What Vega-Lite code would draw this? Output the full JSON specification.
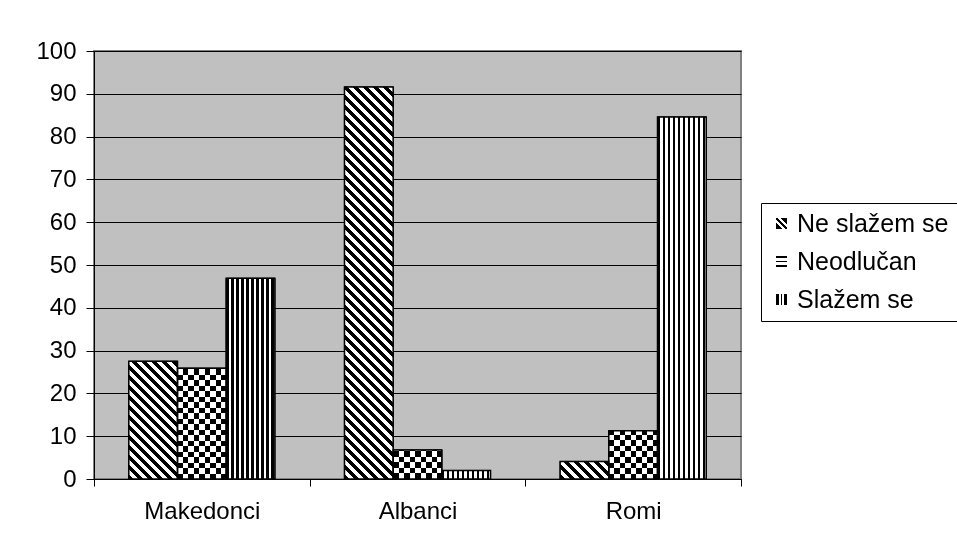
{
  "$schema": "https://vega.github.io/schema/vega-lite/v6.json",
  "width": 647,
  "height": 428,
  "autosize": {"type": "none"},
  "padding": {"left": 94, "top": 51, "right": 216, "bottom": 70},
  "background": "white",
  "config": {
    "view": {"fill": "#c0c0c0", "stroke": "#808080", "strokeWidth": 2},
    "font": "Liberation Sans"
  },
  "params": [
    {
      "name": "legA",
      "value": {"gradient": "linear", "x1": 0, "y1": 1, "x2": 1, "y2": 0, "stops": [
        {"offset": 0, "color": "#000"}, {"offset": 0.3, "color": "#000"}, {"offset": 0.3, "color": "#fff"}, {"offset": 0.42, "color": "#fff"},
        {"offset": 0.42, "color": "#000"}, {"offset": 0.58, "color": "#000"}, {"offset": 0.58, "color": "#fff"}, {"offset": 0.7, "color": "#fff"},
        {"offset": 0.7, "color": "#000"}, {"offset": 1, "color": "#000"}]}
    },
    {
      "name": "legB",
      "value": {"gradient": "linear", "x1": 0, "y1": 0, "x2": 0, "y2": 1, "stops": [
        {"offset": 0, "color": "#000"}, {"offset": 0.22, "color": "#000"}, {"offset": 0.22, "color": "#fff"}, {"offset": 0.42, "color": "#fff"},
        {"offset": 0.42, "color": "#000"}, {"offset": 0.58, "color": "#000"}, {"offset": 0.58, "color": "#fff"}, {"offset": 0.78, "color": "#fff"},
        {"offset": 0.78, "color": "#000"}, {"offset": 1, "color": "#000"}]}
    },
    {
      "name": "legC",
      "value": {"gradient": "linear", "x1": 0, "y1": 0, "x2": 1, "y2": 0, "stops": [
        {"offset": 0, "color": "#000"}, {"offset": 0.25, "color": "#000"}, {"offset": 0.25, "color": "#fff"}, {"offset": 0.42, "color": "#fff"},
        {"offset": 0.42, "color": "#000"}, {"offset": 0.58, "color": "#000"}, {"offset": 0.58, "color": "#fff"}, {"offset": 0.75, "color": "#fff"},
        {"offset": 0.75, "color": "#000"}, {"offset": 1, "color": "#000"}]}
    },
    {
      "name": "stripes",
      "value": [
        {"offset":0,"color":"#000"},{"offset":0.01,"color":"#000"},{"offset":0.01,"color":"#fff"},{"offset":0.02,"color":"#fff"},
        {"offset":0.02,"color":"#000"},{"offset":0.03,"color":"#000"},{"offset":0.03,"color":"#fff"},{"offset":0.04,"color":"#fff"},
        {"offset":0.04,"color":"#000"},{"offset":0.05,"color":"#000"},{"offset":0.05,"color":"#fff"},{"offset":0.06,"color":"#fff"},
        {"offset":0.06,"color":"#000"},{"offset":0.07,"color":"#000"},{"offset":0.07,"color":"#fff"},{"offset":0.08,"color":"#fff"},
        {"offset":0.08,"color":"#000"},{"offset":0.09,"color":"#000"},{"offset":0.09,"color":"#fff"},{"offset":0.10,"color":"#fff"},
        {"offset":0.10,"color":"#000"},{"offset":0.11,"color":"#000"},{"offset":0.11,"color":"#fff"},{"offset":0.12,"color":"#fff"},
        {"offset":0.12,"color":"#000"},{"offset":0.13,"color":"#000"},{"offset":0.13,"color":"#fff"},{"offset":0.14,"color":"#fff"},
        {"offset":0.14,"color":"#000"},{"offset":0.15,"color":"#000"},{"offset":0.15,"color":"#fff"},{"offset":0.16,"color":"#fff"},
        {"offset":0.16,"color":"#000"},{"offset":0.17,"color":"#000"},{"offset":0.17,"color":"#fff"},{"offset":0.18,"color":"#fff"},
        {"offset":0.18,"color":"#000"},{"offset":0.19,"color":"#000"},{"offset":0.19,"color":"#fff"},{"offset":0.20,"color":"#fff"},
        {"offset":0.20,"color":"#000"},{"offset":0.21,"color":"#000"},{"offset":0.21,"color":"#fff"},{"offset":0.22,"color":"#fff"},
        {"offset":0.22,"color":"#000"},{"offset":0.23,"color":"#000"},{"offset":0.23,"color":"#fff"},{"offset":0.24,"color":"#fff"},
        {"offset":0.24,"color":"#000"},{"offset":0.25,"color":"#000"},{"offset":0.25,"color":"#fff"},{"offset":0.26,"color":"#fff"},
        {"offset":0.26,"color":"#000"},{"offset":0.27,"color":"#000"},{"offset":0.27,"color":"#fff"},{"offset":0.28,"color":"#fff"},
        {"offset":0.28,"color":"#000"},{"offset":0.29,"color":"#000"},{"offset":0.29,"color":"#fff"},{"offset":0.30,"color":"#fff"},
        {"offset":0.30,"color":"#000"},{"offset":0.31,"color":"#000"},{"offset":0.31,"color":"#fff"},{"offset":0.32,"color":"#fff"},
        {"offset":0.32,"color":"#000"},{"offset":0.33,"color":"#000"},{"offset":0.33,"color":"#fff"},{"offset":0.34,"color":"#fff"},
        {"offset":0.34,"color":"#000"},{"offset":0.35,"color":"#000"},{"offset":0.35,"color":"#fff"},{"offset":0.36,"color":"#fff"},
        {"offset":0.36,"color":"#000"},{"offset":0.37,"color":"#000"},{"offset":0.37,"color":"#fff"},{"offset":0.38,"color":"#fff"},
        {"offset":0.38,"color":"#000"},{"offset":0.39,"color":"#000"},{"offset":0.39,"color":"#fff"},{"offset":0.40,"color":"#fff"},
        {"offset":0.40,"color":"#000"},{"offset":0.41,"color":"#000"},{"offset":0.41,"color":"#fff"},{"offset":0.42,"color":"#fff"},
        {"offset":0.42,"color":"#000"},{"offset":0.43,"color":"#000"},{"offset":0.43,"color":"#fff"},{"offset":0.44,"color":"#fff"},
        {"offset":0.44,"color":"#000"},{"offset":0.45,"color":"#000"},{"offset":0.45,"color":"#fff"},{"offset":0.46,"color":"#fff"},
        {"offset":0.46,"color":"#000"},{"offset":0.47,"color":"#000"},{"offset":0.47,"color":"#fff"},{"offset":0.48,"color":"#fff"},
        {"offset":0.48,"color":"#000"},{"offset":0.49,"color":"#000"},{"offset":0.49,"color":"#fff"},{"offset":0.50,"color":"#fff"},
        {"offset":0.50,"color":"#000"},{"offset":0.51,"color":"#000"},{"offset":0.51,"color":"#fff"},{"offset":0.52,"color":"#fff"},
        {"offset":0.52,"color":"#000"},{"offset":0.53,"color":"#000"},{"offset":0.53,"color":"#fff"},{"offset":0.54,"color":"#fff"},
        {"offset":0.54,"color":"#000"},{"offset":0.55,"color":"#000"},{"offset":0.55,"color":"#fff"},{"offset":0.56,"color":"#fff"},
        {"offset":0.56,"color":"#000"},{"offset":0.57,"color":"#000"},{"offset":0.57,"color":"#fff"},{"offset":0.58,"color":"#fff"},
        {"offset":0.58,"color":"#000"},{"offset":0.59,"color":"#000"},{"offset":0.59,"color":"#fff"},{"offset":0.60,"color":"#fff"},
        {"offset":0.60,"color":"#000"},{"offset":0.61,"color":"#000"},{"offset":0.61,"color":"#fff"},{"offset":0.62,"color":"#fff"},
        {"offset":0.62,"color":"#000"},{"offset":0.63,"color":"#000"},{"offset":0.63,"color":"#fff"},{"offset":0.64,"color":"#fff"},
        {"offset":0.64,"color":"#000"},{"offset":0.65,"color":"#000"},{"offset":0.65,"color":"#fff"},{"offset":0.66,"color":"#fff"},
        {"offset":0.66,"color":"#000"},{"offset":0.67,"color":"#000"},{"offset":0.67,"color":"#fff"},{"offset":0.68,"color":"#fff"},
        {"offset":0.68,"color":"#000"},{"offset":0.69,"color":"#000"},{"offset":0.69,"color":"#fff"},{"offset":0.70,"color":"#fff"},
        {"offset":0.70,"color":"#000"},{"offset":0.71,"color":"#000"},{"offset":0.71,"color":"#fff"},{"offset":0.72,"color":"#fff"},
        {"offset":0.72,"color":"#000"},{"offset":0.73,"color":"#000"},{"offset":0.73,"color":"#fff"},{"offset":0.74,"color":"#fff"},
        {"offset":0.74,"color":"#000"},{"offset":0.75,"color":"#000"},{"offset":0.75,"color":"#fff"},{"offset":0.76,"color":"#fff"},
        {"offset":0.76,"color":"#000"},{"offset":0.77,"color":"#000"},{"offset":0.77,"color":"#fff"},{"offset":0.78,"color":"#fff"},
        {"offset":0.78,"color":"#000"},{"offset":0.79,"color":"#000"},{"offset":0.79,"color":"#fff"},{"offset":0.80,"color":"#fff"},
        {"offset":0.80,"color":"#000"},{"offset":0.81,"color":"#000"},{"offset":0.81,"color":"#fff"},{"offset":0.82,"color":"#fff"},
        {"offset":0.82,"color":"#000"},{"offset":0.83,"color":"#000"},{"offset":0.83,"color":"#fff"},{"offset":0.84,"color":"#fff"},
        {"offset":0.84,"color":"#000"},{"offset":0.85,"color":"#000"},{"offset":0.85,"color":"#fff"},{"offset":0.86,"color":"#fff"},
        {"offset":0.86,"color":"#000"},{"offset":0.87,"color":"#000"},{"offset":0.87,"color":"#fff"},{"offset":0.88,"color":"#fff"},
        {"offset":0.88,"color":"#000"},{"offset":0.89,"color":"#000"},{"offset":0.89,"color":"#fff"},{"offset":0.90,"color":"#fff"},
        {"offset":0.90,"color":"#000"},{"offset":0.91,"color":"#000"},{"offset":0.91,"color":"#fff"},{"offset":0.92,"color":"#fff"},
        {"offset":0.92,"color":"#000"},{"offset":0.93,"color":"#000"},{"offset":0.93,"color":"#fff"},{"offset":0.94,"color":"#fff"},
        {"offset":0.94,"color":"#000"},{"offset":0.95,"color":"#000"},{"offset":0.95,"color":"#fff"},{"offset":0.96,"color":"#fff"},
        {"offset":0.96,"color":"#000"},{"offset":0.97,"color":"#000"},{"offset":0.97,"color":"#fff"},{"offset":0.98,"color":"#fff"},
        {"offset":0.98,"color":"#000"},{"offset":0.99,"color":"#000"},{"offset":0.99,"color":"#fff"},{"offset":1,"color":"#fff"}
      ]
    }
  ],
  "data": {
    "values": [
      {"group": "Makedonci", "series": "Ne slažem se", "value": 27.5},
      {"group": "Makedonci", "series": "Neodlučan", "value": 25.9},
      {"group": "Makedonci", "series": "Slažem se", "value": 46.9},
      {"group": "Albanci", "series": "Ne slažem se", "value": 91.6},
      {"group": "Albanci", "series": "Neodlučan", "value": 6.8},
      {"group": "Albanci", "series": "Slažem se", "value": 2.0},
      {"group": "Romi", "series": "Ne slažem se", "value": 4.1},
      {"group": "Romi", "series": "Neodlučan", "value": 11.3},
      {"group": "Romi", "series": "Slažem se", "value": 84.6}
    ]
  },
  "encoding": {
    "x": {
      "field": "group",
      "type": "nominal",
      "sort": ["Makedonci", "Albanci", "Romi"],
      "scale": {"paddingInner": 0, "paddingOuter": 0},
      "axis": {
        "title": null,
        "tickBand": "extent",
        "tickSize": 7,
        "tickColor": "black",
        "tickWidth": 1,
        "domainColor": "black",
        "domainWidth": 1,
        "grid": false,
        "labelAngle": 0,
        "labelFont": "Liberation Sans",
        "labelFontSize": 24,
        "labelColor": "black",
        "labelPadding": 13
      }
    },
    "xOffset": {
      "field": "series",
      "type": "nominal",
      "sort": ["Ne slažem se", "Neodlučan", "Slažem se"],
      "scale": {"domain": ["Ne slažem se", "Neodlučan", "Slažem se"], "paddingInner": 0, "paddingOuter": 0.715}
    },
    "y": {
      "field": "value",
      "type": "quantitative",
      "scale": {"domain": [0, 100], "nice": false},
      "axis": {
        "title": null,
        "values": [0, 10, 20, 30, 40, 50, 60, 70, 80, 90, 100],
        "grid": true,
        "gridColor": "black",
        "gridWidth": 1,
        "gridOpacity": 1,
        "domainColor": "black",
        "domainWidth": 1,
        "tickColor": "black",
        "tickSize": 8,
        "tickWidth": 1,
        "labelFont": "Liberation Sans",
        "labelFontSize": 24,
        "labelColor": "black",
        "labelPadding": 10
      }
    }
  },
  "layer": [
    {
      "mark": {
        "type": "bar",
        "fill": {"expr": "datum.value === 'Ne slažem se' ? legA : (datum.value === 'Neodlučan' ? legB : legC)"},
        "stroke": "black",
        "strokeWidth": 1
      },
      "encoding": {
        "opacity": {
          "field": "series",
          "type": "nominal",
          "scale": {
            "type": "ordinal",
            "domain": ["Ne slažem se", "Neodlučan", "Slažem se"],
            "range": [1, 1, 1]
          },
          "legend": {
            "title": null,
            "orient": "none",
            "legendX": 667,
            "legendY": 152,
            "strokeColor": "black",
            "fillColor": "white",
            "padding": 8,
            "symbolType": "square",
            "symbolSize": 121,
            "symbolStrokeColor": "black",
            "symbolStrokeWidth": 1,
            "symbolOffset": 0,
            "labelOffset": 3,
            "labelFont": "Liberation Sans",
            "labelFontSize": 25,
            "labelColor": "black",
            "rowPadding": 12
          }
        }
      }
    },
    {
      "transform": [{"filter": "datum.series === 'Ne slažem se'"}],
      "mark": {"type": "bar"},
      "encoding": {
        "fill": {"value": {"expr": "{'gradient':'linear','x1':0,'y1':1,'x2':bandwidth('xOffset')*500/(pow(bandwidth('xOffset'),2)+pow(scale('y',0)-scale('y',datum.value),2)),'y2':1-(scale('y',0)-scale('y',datum.value))*500/(pow(bandwidth('xOffset'),2)+pow(scale('y',0)-scale('y',datum.value),2)),'stops':stripes}"}}
      }
    },
    {
      "transform": [{"filter": "datum.series === 'Neodlučan'"}],
      "mark": {"type": "bar"},
      "encoding": {
        "fill": {"value": {"expr": "{'gradient':'linear','x1':0,'y1':1,'x2':0,'y2':1-550/(scale('y',0)-scale('y',datum.value)),'stops':stripes}"}}
      }
    },
    {
      "transform": [{"filter": "datum.series === 'Neodlučan'"}],
      "mark": {"type": "bar", "blend": "difference"},
      "encoding": {
        "fill": {"value": {"expr": "{'gradient':'linear','x1':0,'y1':0,'x2':550/bandwidth('xOffset'),'y2':0,'stops':stripes}"}}
      }
    },
    {
      "transform": [{"filter": "datum.series === 'Slažem se'"}],
      "mark": {"type": "bar"},
      "encoding": {
        "fill": {"value": {"expr": "{'gradient':'linear','x1':0,'y1':0,'x2':250/bandwidth('xOffset'),'y2':0,'stops':stripes}"}}
      }
    },
    {
      "mark": {"type": "bar", "fill": "transparent", "stroke": "black", "strokeWidth": 1.5}
    }
  ]
}
